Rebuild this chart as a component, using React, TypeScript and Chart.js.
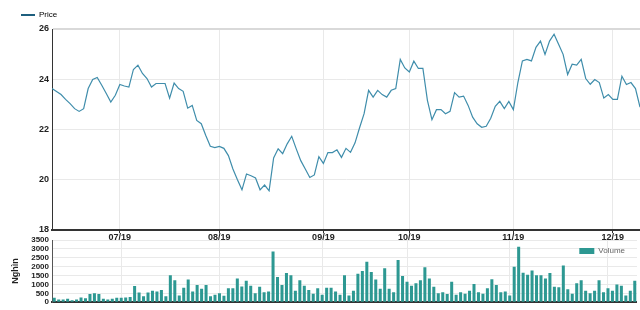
import React, { useEffect, useRef } from "react";
import { Chart, registerables } from "chart.js";

Chart.register(...registerables);

// Month tick positions (trading-day index) and their labels
const tickIndex = [15, 37, 60, 79, 102, 124];
const tickLabels = ["07/19", "08/19", "09/19", "10/19", "11/19", "12/19"];

// Daily closing price
const priceValues = [
  23.63, 23.51, 23.39, 23.2, 23.03, 22.83, 22.72, 22.83, 23.63, 23.99,
  24.07, 23.76, 23.43, 23.09, 23.36, 23.79, 23.73, 23.69, 24.39, 24.56,
  24.23, 24.03, 23.69, 23.83, 23.83, 23.83, 23.25, 23.85, 23.63, 23.52,
  22.85, 22.96, 22.36, 22.23, 21.76, 21.33, 21.28, 21.33, 21.25, 20.96,
  20.43, 20.0, 19.6, 20.23, 20.16, 20.07, 19.6, 19.79, 19.56, 20.87,
  21.23, 21.04, 21.43, 21.73, 21.23, 20.76, 20.43, 20.09, 20.19, 20.92,
  20.65, 21.08, 21.08, 21.19, 20.89, 21.25, 21.09, 21.47, 22.07, 22.63,
  23.56, 23.29, 23.56, 23.39, 23.29, 23.56, 23.63, 24.79, 24.45, 24.29,
  24.72, 24.43, 24.43, 23.16, 22.39, 22.79, 22.79, 22.63, 22.72, 23.47,
  23.29, 23.33, 22.96, 22.49, 22.23, 22.09, 22.13, 22.45, 22.92, 23.12,
  22.83, 23.12, 22.79, 23.87, 24.73, 24.79, 24.73, 25.27, 25.52, 24.99,
  25.52, 25.79, 25.39, 24.99, 24.19, 24.6, 24.56, 24.79, 24.03, 23.8,
  23.99, 23.87, 23.25, 23.39, 23.2, 23.2, 24.12, 23.79, 23.87, 23.63,
  22.89,
];

// Daily volume (thousands)
const volumeValues = [
  250, 150, 150, 200, 110, 150, 260, 220, 460, 510,
  460, 200, 150, 200, 250, 250, 260, 290, 910, 550,
  330, 550, 650, 600, 690, 330, 1520, 1240, 380, 820,
  1280, 600, 970, 750, 970, 330, 420, 510, 360, 780,
  780, 1330, 890, 1200, 930, 510, 870, 560, 600, 2850,
  1420, 970, 1640, 1510, 650, 1240, 930, 690, 470, 780,
  420, 820, 820, 600, 420, 1510, 380, 650, 1600, 1750,
  2280, 1700, 1280, 750, 1910, 750, 560, 2370, 1480, 1150,
  930, 1060, 1240, 1970, 1330, 870, 510, 560, 460, 1150,
  420, 560, 470, 650, 1020, 560, 470, 780, 1290, 970,
  560, 600, 380, 2000, 3120, 1660, 1550, 1790, 1510, 1510,
  1330, 1640, 870, 840, 2060, 730, 470, 1060, 1240, 650,
  510, 650, 1240, 560, 780, 650, 1000, 930, 380, 650,
  1200,
];

const PRICE_LABEL = "Price";
const VOLUME_LABEL = "Volume";
const VOLUME_TITLE = "Nghìn";

const FONT = "'Liberation Sans', Arial, sans-serif";
const LINE_COLOR = "#3f8dab";
const LEGEND_LINE = "#1e5f7e";
const BAR_COLOR = "#2d9892";
const GRID = "#e9e9e9";

function monthTicks(scale: any) {
  scale.ticks = tickIndex.map((v) => ({ value: v }));
}
function monthLabel(v: any) {
  const k = tickIndex.indexOf(Number(v));
  return k >= 0 ? tickLabels[k] : null;
}

// Legend drawn inside the plot area, top-right (like the reference)
const insideLegend = {
  id: "insideLegend",
  afterDatasetsDraw(chart: any) {
    const { ctx, chartArea } = chart;
    const textX = chartArea.right - 12;
    const y = chartArea.top + 11;
    ctx.save();
    ctx.font = `8px ${FONT}`;
    const w = ctx.measureText(VOLUME_LABEL).width;
    const boxX = textX - w - 19;
    ctx.fillStyle = BAR_COLOR;
    ctx.fillRect(boxX, y - 3, 15, 6);
    ctx.fillStyle = "#666";
    ctx.textBaseline = "middle";
    ctx.textAlign = "left";
    ctx.fillText(VOLUME_LABEL, textX - w, y);
    ctx.restore();
  },
};

export default function App() {
  const priceRef = useRef<HTMLCanvasElement>(null);
  const volRef = useRef<HTMLCanvasElement>(null);

  useEffect(() => {
    const priceChart = new Chart(priceRef.current!, {
      type: "line",
      data: {
        datasets: [
          {
            label: PRICE_LABEL,
            data: priceValues.map((v, i) => ({ x: i, y: v })),
            borderColor: LINE_COLOR,
            borderWidth: 1.2,
            pointRadius: 0,
            tension: 0,
            fill: false,
          },
        ],
      },
      options: {
        animation: false,
        responsive: false,
        layout: { padding: { left: 11, top: 1, right: 0, bottom: 0 } },
        plugins: {
          tooltip: { enabled: false },
          legend: {
            position: "top",
            align: "start",
            labels: {
              boxWidth: 14,
              boxHeight: 2,
              padding: 10,
              color: "#777",
              font: { family: FONT, size: 8 },
              generateLabels: () => [
                {
                  text: PRICE_LABEL,
                  fillStyle: LEGEND_LINE,
                  strokeStyle: LEGEND_LINE,
                  lineWidth: 0,
                  hidden: false,
                  datasetIndex: 0,
                } as any,
              ],
            },
          },
        },
        scales: {
          x: {
            type: "linear",
            min: 0,
            max: priceValues.length - 1,
            afterBuildTicks: monthTicks,
            ticks: {
              autoSkip: false,
              maxRotation: 0,
              padding: 0,
              color: "#222",
              font: { family: FONT, size: 9, weight: "bold", lineHeight: 1 },
              callback: (v: any) => monthLabel(v),
            },
            grid: { color: GRID, tickColor: "#333", tickLength: 3 },
            border: { color: "#333", width: 2 },
          },
          y: {
            min: 18,
            max: 26,
            afterFit: (s: any) => {
              s.width = 41;
            },
            ticks: {
              stepSize: 2,
              padding: 3,
              color: "#222",
              font: { family: FONT, size: 9, weight: "bold" },
            },
            grid: {
              drawTicks: false,
              color: (c: any) => (c.tick && c.tick.value === 26 ? "#d9d9d9" : GRID),
              lineWidth: (c: any) => (c.tick && c.tick.value === 26 ? 2 : 1),
            },
            border: { color: "#333", width: 1 },
          },
        },
      } as any,
    });

    const volChart = new Chart(volRef.current!, {
      type: "bar",
      data: {
        labels: volumeValues.map((_, i) => String(i)),
        datasets: [
          {
            label: VOLUME_LABEL,
            data: volumeValues,
            backgroundColor: BAR_COLOR,
            borderWidth: 0,
            barPercentage: 0.75,
            categoryPercentage: 0.9,
          },
        ],
      },
      options: {
        animation: false,
        responsive: false,
        layout: { padding: { left: 0, top: 10, right: 0, bottom: 5 } },
        plugins: {
          tooltip: { enabled: false },
          legend: { display: false },
        },
        scales: {
          x: {
            type: "category",
            offset: true,
            afterBuildTicks: monthTicks,
            ticks: { display: false },
            grid: { color: GRID, drawTicks: false, offset: false },
            border: { color: "#333", width: 2 },
          },
          y: {
            min: 0,
            max: 3500,
            afterFit: (s: any) => {
              s.width = 52;
            },
            ticks: {
              stepSize: 500,
              autoSkip: false,
              padding: 3,
              color: "#222",
              font: { family: FONT, size: 8, weight: "bold" },
              callback: (v: any) => String(v),
            },
            grid: { drawTicks: false, color: GRID },
            border: { color: "#555", width: 1 },
            title: {
              display: true,
              text: VOLUME_TITLE,
              color: "#222",
              font: { family: FONT, size: 9, weight: "bold" },
              padding: { top: 10, bottom: 0 },
            },
          },
        },
      } as any,
      plugins: [insideLegend],
    });

    return () => {
      priceChart.destroy();
      volChart.destroy();
    };
  }, []);

  return (
    <div
      style={{
        position: "absolute",
        left: 0,
        top: 0,
        width: 640,
        height: 310,
        background: "#fff",
        overflow: "hidden",
      }}
    >
      <canvas
        ref={priceRef}
        width={640}
        height={242}
        style={{ position: "absolute", left: 0, top: 0, width: 640, height: 242 }}
      />
      <canvas
        ref={volRef}
        width={637}
        height={80}
        style={{ position: "absolute", left: 0, top: 230, width: 637, height: 80 }}
      />
    </div>
  );
}
